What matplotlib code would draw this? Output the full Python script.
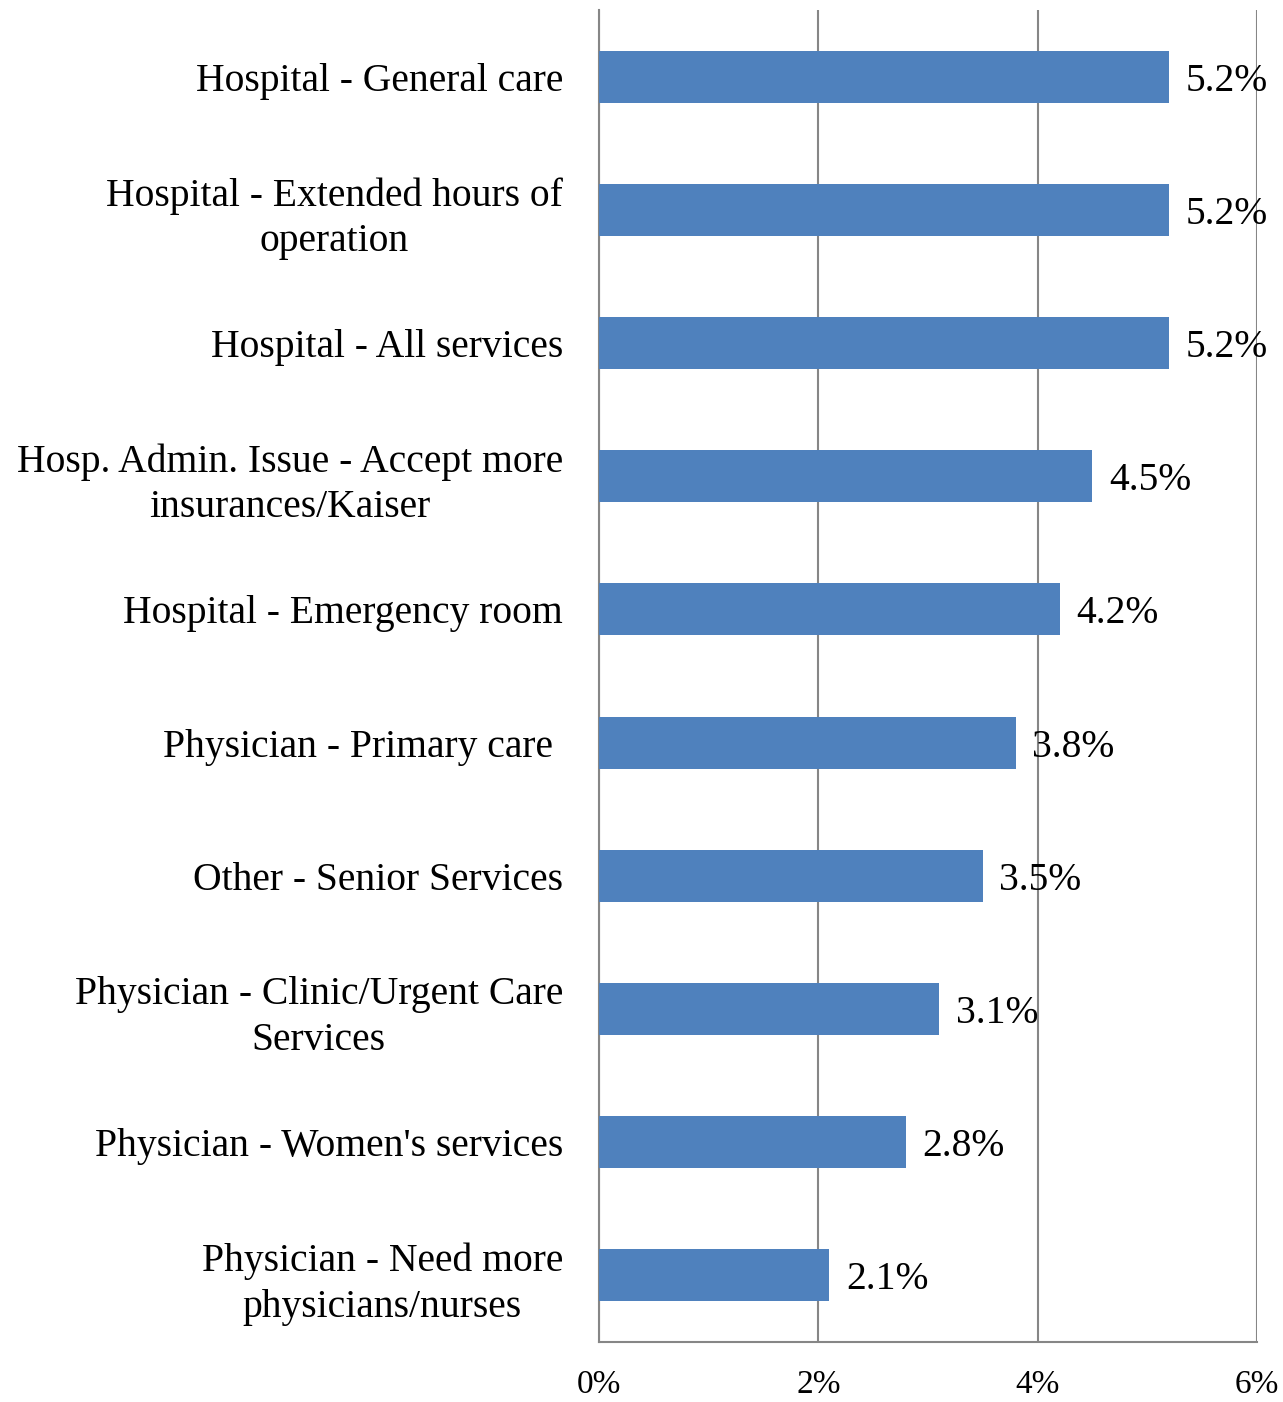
import matplotlib.pyplot as plt
from matplotlib.ticker import FuncFormatter

categories = [
    "Hospital - General care",
    "Hospital - Extended hours of\noperation",
    "Hospital - All services",
    "Hosp. Admin. Issue - Accept more\ninsurances/Kaiser",
    "Hospital - Emergency room",
    "Physician - Primary care ",
    "Other - Senior Services",
    "Physician - Clinic/Urgent Care\nServices",
    "Physician - Women's services",
    "Physician - Need more\nphysicians/nurses",
]
values = [5.2, 5.2, 5.2, 4.5, 4.2, 3.8, 3.5, 3.1, 2.8, 2.1]
x_ticks = [0, 2, 4, 6]

plt.rcParams['font.family'] = ['Liberation Serif', 'DejaVu Serif']

fig = plt.figure(figsize=(12.83, 14.02), dpi=100)
ax = fig.add_axes([0.4669, 0.0428, 0.5128, 0.9501])

pos = list(range(len(categories)))
ax.barh(pos, values, height=0.39, color="#4F81BD", zorder=3)

for p, v in zip(pos, values):
    ax.annotate(f"{v:.1f}%", (v, p), xytext=(12, 0), textcoords="offset points",
                va="center_baseline", ha="left", fontsize=28.5, zorder=4)

ax.set_ylim(len(categories) - 0.5, -0.5)
ax.set_yticks(pos)
ax.set_yticklabels(categories, fontsize=28.5, multialignment="center",
                   linespacing=1.3)
ax.tick_params(axis="y", length=0, pad=26)

ax.set_xlim(0, 6)
ax.set_xticks(x_ticks)
ax.xaxis.set_major_formatter(FuncFormatter(lambda x, _: f"{x:.0f}%"))
ax.tick_params(axis="x", length=0, pad=20, labelsize=24)

ax.grid(axis="x", color="#868686", linewidth=1.5, zorder=1)
for side in ["top", "right"]:
    ax.spines[side].set_visible(False)
for side in ["left", "bottom"]:
    ax.spines[side].set_color("#868686")
    ax.spines[side].set_linewidth(1.5)

fig.savefig("out.png", dpi=100)
